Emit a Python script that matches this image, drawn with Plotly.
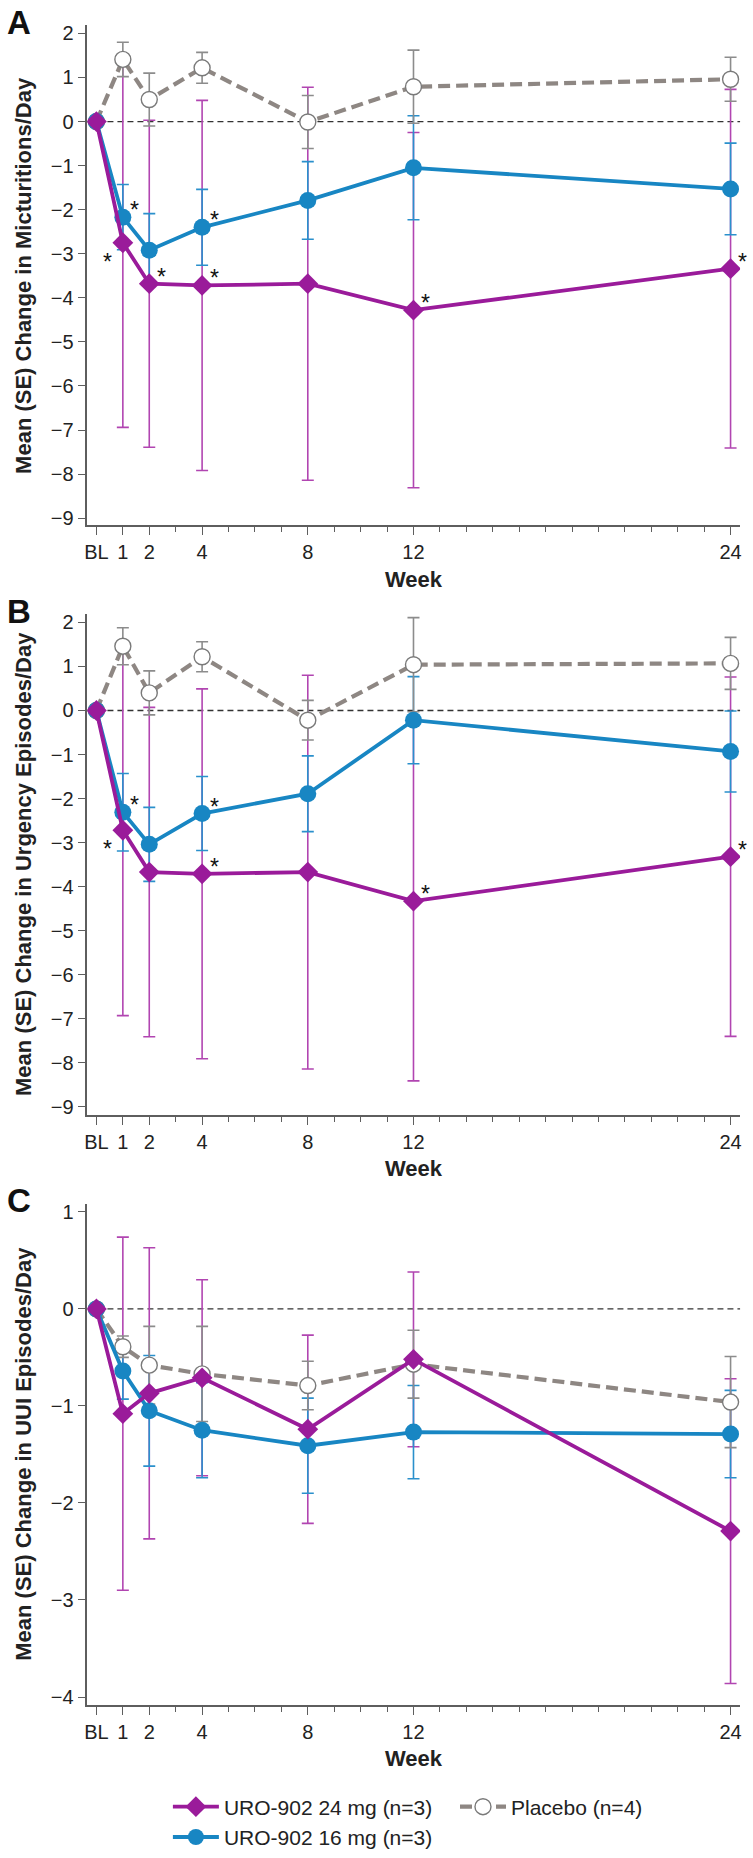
import plotly.graph_objects as go

# ---------------- data ----------------
weeks = [0, 1, 2, 4, 8, 12, 24]
week_labels = ["BL", "1", "2", "4", "8", "12", "24"]

# Panel A: micturitions/day
a_24 = [0, -2.75, -3.68, -3.72, -3.68, -4.28, -3.34]
a_24_se = [None, 4.19, 3.71, 4.20, 4.46, 4.03, 4.07]
a_16 = [0, -2.17, -2.92, -2.40, -1.79, -1.05, -1.53]
a_16_se = [None, 0.74, 0.83, 0.86, 0.88, 1.18, 1.04]
a_pl = [0, 1.41, 0.50, 1.22, -0.01, 0.79, 0.96]
a_pl_se = [None, 0.39, 0.60, 0.35, 0.60, 0.83, 0.50]

# Panel B: urgency episodes/day
b_24 = [0, -2.72, -3.67, -3.71, -3.67, -4.33, -3.32]
b_24_se = [None, 4.21, 3.74, 4.20, 4.47, 4.08, 4.08]
b_16 = [0, -2.31, -3.04, -2.34, -1.89, -0.22, -0.93]
b_16_se = [None, 0.88, 0.84, 0.84, 0.86, 0.99, 0.92]
b_pl = [0, 1.46, 0.40, 1.22, -0.22, 1.04, 1.07]
b_pl_se = [None, 0.42, 0.50, 0.34, 0.45, 1.07, 0.59]

# Panel C: UUI episodes/day
c_24 = [0, -1.08, -0.87, -0.71, -1.24, -0.52, -2.29]
c_24_se = [None, 1.82, 1.50, 1.01, 0.97, 0.90, 1.57]
c_16 = [0, -0.64, -1.05, -1.25, -1.41, -1.27, -1.29]
c_16_se = [None, 0.29, 0.57, 0.49, 0.49, 0.48, 0.45]
c_pl = [0, -0.39, -0.58, -0.67, -0.79, -0.57, -0.96]
c_pl_se = [None, 0.11, 0.40, 0.49, 0.25, 0.35, 0.47]

# significance markers: (week, series, placement)
stars_a = [(1, "16", "ur"), (1, "24", "ll"), (2, "24", "ur"), (4, "16", "ur"),
           (4, "24", "ur"), (12, "24", "ur"), (24, "24", "ur")]
stars_b = [(1, "16", "ur"), (1, "24", "ll"), (4, "16", "ur"),
           (4, "24", "ur"), (12, "24", "ur"), (24, "24", "ur")]
stars_c = []

names = {"24": "URO-902 24 mg (n=3)", "16": "URO-902 16 mg (n=3)", "pl": "Placebo (n=4)"}
y_titles = ["Mean (SE) Change in Micturitions/Day",
            "Mean (SE) Change in Urgency Episodes/Day",
            "Mean (SE) Change in UUI Episodes/Day"]
panel_letters = ["A", "B", "C"]

# ---------------- style ----------------
W, H = 753, 1858
FONT = "Liberation Sans, Arial, Helvetica, sans-serif"
PURPLE = "#9a1b9a"
PURPLE_ERR = "#b145b1"
BLUE = "#1886c3"
BLUE_ERR = "#2a90cc"
GRAY_LINE = "#8e8783"
GRAY_ERR = "#8c8c8c"
AXIS = "#5e5e5e"

x_left, x_right = 85, 742
# (top px, bottom px, ymin, ymax)
panels_px = [(22.7, 527.0, -9.16, 2.18),
             (616.7, 1122.0, -9.18, 2.19),
             (1211.7, 1717.5, -4.08, 1.085)]
yticks = [list(range(-9, 3)), list(range(-9, 3)), list(range(-4, 2))]

data = [
    (a_24, a_24_se, a_16, a_16_se, a_pl, a_pl_se, stars_a),
    (b_24, b_24_se, b_16, b_16_se, b_pl, b_pl_se, stars_b),
    (c_24, c_24_se, c_16, c_16_se, c_pl, c_pl_se, stars_c),
]

fig = go.Figure()
annotations = []
shapes = []

for i, (v24, s24, v16, s16, vpl, spl, stars) in enumerate(data):
    k = "" if i == 0 else str(i + 1)
    xa, ya = "x" + k, "y" + k
    first = i == 0

    # error bars (drawn beneath lines/markers)
    for vals, se, col in [(v24, s24, PURPLE_ERR), (v16, s16, BLUE_ERR), (vpl, spl, GRAY_ERR)]:
        fig.add_trace(go.Scatter(
            x=weeks, y=vals, mode="markers", xaxis=xa, yaxis=ya,
            marker=dict(size=1, color="rgba(0,0,0,0)"),
            error_y=dict(type="data", array=se, symmetric=True, color=col,
                         thickness=1.6, width=6),
            showlegend=False, hoverinfo="skip"))

    # placebo
    fig.add_trace(go.Scatter(
        x=weeks, y=vpl, mode="lines+markers", xaxis=xa, yaxis=ya,
        name=names["pl"], legend="legend2", showlegend=first,
        line=dict(color=GRAY_LINE, width=4.2, dash="12px,6px"),
        marker=dict(symbol="circle", size=16, color="white",
                    line=dict(color="#7a7a7a", width=1.4))))
    # 16 mg
    fig.add_trace(go.Scatter(
        x=weeks, y=v16, mode="lines+markers", xaxis=xa, yaxis=ya,
        name=names["16"], legend="legend", legendrank=2, showlegend=first,
        line=dict(color=BLUE, width=3.8),
        marker=dict(symbol="circle", size=17, color=BLUE)))
    # 24 mg
    fig.add_trace(go.Scatter(
        x=weeks, y=v24, mode="lines+markers", xaxis=xa, yaxis=ya,
        name=names["24"], legend="legend", legendrank=1, showlegend=first,
        line=dict(color=PURPLE, width=3.8),
        marker=dict(symbol="diamond", size=16, color=PURPLE)))

    top, bot, ymin, ymax = panels_px[i]
    xdom = [x_left / W, x_right / W]
    ydom = [1 - bot / H, 1 - top / H]

    fig.layout["xaxis" + k] = dict(
        domain=xdom, anchor=ya, range=[-0.34, 24.36],
        tickmode="array", tickvals=weeks, ticktext=week_labels, tickangle=0,
        ticks="outside", ticklen=8, tickwidth=1.3, tickcolor=AXIS,
        minor=dict(tickmode="linear", tick0=0, dtick=1, ticks="outside",
                   ticklen=5, tickwidth=1.3, tickcolor=AXIS),
        showline=True, linecolor=AXIS, linewidth=1.6,
        showgrid=False, zeroline=False,
        tickfont=dict(family=FONT, size=20, color="#222"))
    fig.layout["yaxis" + k] = dict(
        domain=ydom, anchor=xa, range=[ymin, ymax],
        tickmode="array", tickvals=yticks[i],
        ticks="outside", ticklen=8, tickwidth=1.3, tickcolor=AXIS,
        showline=True, linecolor=AXIS, linewidth=1.6,
        showgrid=False, zeroline=False,
        tickfont=dict(family=FONT, size=20, color="#222"))

    # reference line at zero
    shapes.append(dict(type="line", xref=xa + " domain", yref=ya,
                       x0=0, x1=1, y0=0, y1=0,
                       line=dict(color="#333", width=1.3, dash="6px,4px"),
                       layer="below"))

    # y axis title
    annotations.append(dict(text="<b>" + y_titles[i] + "</b>", textangle=-90,
                            xref="paper", x=20.7 / W, xanchor="center",
                            yref=ya + " domain", y=0.5, yanchor="middle",
                            showarrow=False,
                            font=dict(family=FONT, size=22, color="#222")))
    # x axis title
    annotations.append(dict(text="<b>Week</b>", xref=xa + " domain", x=0.5,
                            yref=ya + " domain", y=0, yanchor="middle", yshift=-54,
                            showarrow=False,
                            font=dict(family=FONT, size=22, color="#222")))
    # panel letter
    annotations.append(dict(text="<b>" + panel_letters[i] + "</b>",
                            xref="paper", x=16.5 / W, xanchor="center",
                            yref="paper", y=1 - (top - 3) / H, yanchor="middle",
                            showarrow=False,
                            font=dict(family=FONT, size=33, color="#111")))
    # asterisks
    series = {"24": v24, "16": v16}
    for wk, s, pos in stars:
        yv = series[s][weeks.index(wk)]
        dx, dy = (12, 7) if pos == "ur" else (-15, -19)
        annotations.append(dict(text="*", xref=xa, yref=ya, x=wk, y=yv,
                                xshift=dx, yshift=dy, showarrow=False,
                                font=dict(family=FONT, size=23, color="#111")))

fig.update_layout(
    width=W, height=H,
    margin=dict(l=0, r=0, t=0, b=0),
    paper_bgcolor="white", plot_bgcolor="white",
    shapes=shapes, annotations=annotations,
    legend=dict(x=166 / W, xanchor="left", y=1 - 1800 / H, yanchor="top",
                orientation="v", itemwidth=46, tracegroupgap=0,
                bgcolor="rgba(0,0,0,0)",
                font=dict(family=FONT, size=21, color="#222")),
    legend2=dict(x=455 / W, xanchor="left", y=1 - 1800 / H, yanchor="top",
                 orientation="v", itemwidth=46,
                 bgcolor="rgba(0,0,0,0)",
                 font=dict(family=FONT, size=21, color="#222")),
)

fig.write_html(
    "out.html",
    config={"displayModeBar": False},
    post_script="document.body.style.margin='0';document.body.style.overflow='hidden';",
)
